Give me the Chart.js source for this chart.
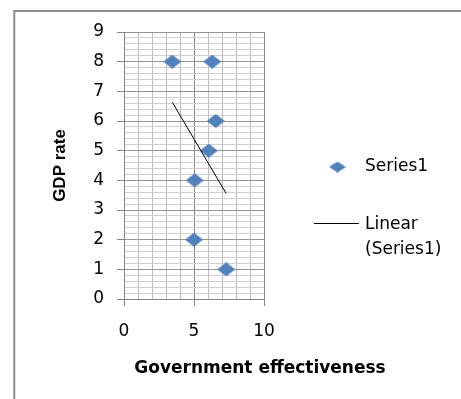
<!DOCTYPE html>
<html>
<head>
<meta charset="utf-8">
<script src="https://cdn.jsdelivr.net/npm/chart.js@4.4.0/dist/chart.umd.min.js"></script>
<style>
  html, body { margin: 0; padding: 0; background: #fff; }
  canvas { display: block; }
</style>
</head>
<body>
<canvas id="myChart" width="461" height="399"></canvas>
<script>
// scatter data: government effectiveness vs GDP rate
const seriesName = "Series1";
const trendName = ["Linear", "(Series1)"];
const xTitle = "Government effectiveness";
const yTitle = "GDP rate";

const govEffect = [3.45, 6.3, 6.55, 6.05, 5.05, 5.0, 7.3];
const gdpRate = [8, 8, 6, 5, 4, 2, 1];

const xTickLabels = [0, 5, 10];
const yTickLabels = [0, 1, 2, 3, 4, 5, 6, 7, 8, 9];

const blue = "#4f81bd";

// least squares line through the points
function linearFit(xs, ys) {
  const n = xs.length;
  const mx = xs.reduce((a, b) => a + b, 0) / n;
  const my = ys.reduce((a, b) => a + b, 0) / n;
  let sxy = 0, sxx = 0;
  for (let i = 0; i < n; i++) {
    sxy += (xs[i] - mx) * (ys[i] - my);
    sxx += (xs[i] - mx) * (xs[i] - mx);
  }
  const slope = sxy / sxx;
  return { slope: slope, intercept: my - slope * mx };
}

const fit = linearFit(govEffect, gdpRate);
const xLo = Math.min(...govEffect);
const xHi = Math.max(...govEffect);
const trendPoints = [
  { x: xLo, y: fit.intercept + fit.slope * xLo },
  { x: xHi, y: fit.intercept + fit.slope * xHi },
];
const points = govEffect.map((x, i) => ({ x: x, y: gdpRate[i] }));

// flat diamond marker
function makeDiamond(w, h) {
  const c = document.createElement("canvas");
  c.width = w;
  c.height = h;
  const g = c.getContext("2d");
  g.fillStyle = blue;
  g.beginPath();
  g.moveTo(w / 2, 0);
  g.lineTo(w, h / 2);
  g.lineTo(w / 2, h);
  g.lineTo(0, h / 2);
  g.closePath();
  g.fill();
  return c;
}
const diamond = makeDiamond(18, 14);
const legendDiamond = makeDiamond(17, 11);

const isWhole = (v) => Math.abs(v - Math.round(v)) < 1e-6;

// frame, x title and the legend on the right
const decor = {
  id: "decor",
  beforeDraw(chart) {
    const ctx = chart.ctx;
    ctx.save();
    ctx.fillStyle = "#fff";
    ctx.fillRect(0, 0, chart.width, chart.height);
    ctx.strokeStyle = "#8c8c8c";
    ctx.lineWidth = 2;
    ctx.beginPath();
    ctx.moveTo(14.3, chart.height);
    ctx.lineTo(14.3, 11);
    ctx.lineTo(chart.width, 11);
    ctx.stroke();
    ctx.restore();
  },
  afterDraw(chart) {
    const ctx = chart.ctx;
    const area = chart.chartArea;
    ctx.save();
    ctx.fillStyle = "#000";
    ctx.textBaseline = "middle";
    ctx.font = "bold 17px 'DejaVu Sans'";
    ctx.textAlign = "center";
    ctx.fillText(xTitle, 260, 369);

    // legend
    ctx.textAlign = "left";
    ctx.font = "17px 'DejaVu Sans'";
    const lx = area.right + 101;
    ctx.drawImage(legendDiamond, area.right + 65, 161.5);
    ctx.fillText(seriesName, lx, 167);
    ctx.strokeStyle = "#000";
    ctx.lineWidth = 1;
    ctx.beginPath();
    ctx.moveTo(area.right + 50, 223.5);
    ctx.lineTo(area.right + 95, 223.5);
    ctx.stroke();
    ctx.fillText(trendName[0], lx, 225);
    ctx.fillText(trendName[1], lx, 250);
    ctx.restore();
  },
};

const tickFont = { family: "'DejaVu Sans'", size: 17 };

new Chart(document.getElementById("myChart"), {
  type: "scatter",
  data: {
    datasets: [
      {
        label: trendName.join(" "),
        type: "line",
        data: trendPoints,
        borderColor: "#000",
        borderWidth: 1,
        pointRadius: 0,
        fill: false,
        order: 0,
      },
      {
        label: seriesName,
        data: points,
        pointStyle: diamond,
        backgroundColor: blue,
        order: 1,
      },
    ],
  },
  options: {
    responsive: false,
    animation: false,
    layout: { padding: { left: 14, top: 32, right: 197, bottom: 0 } },
    plugins: {
      legend: { display: false },
      tooltip: { enabled: false },
    },
    scales: {
      x: {
        type: "linear",
        min: 0,
        max: 10,
        afterFit: (scale) => { scale.height = 100; },
        ticks: {
          stepSize: 1,
          autoSkip: false,
          maxRotation: 0,
          padding: 15,
          color: "#000",
          font: tickFont,
          callback: (v) => (xTickLabels.includes(v) ? String(v) : ""),
        },
        grid: {
          color: (c) => (c.tick && c.tick.value % 5 === 0 ? "#858585" : "#bcbcbc"),
          tickColor: (c) => (c.tick && xTickLabels.includes(c.tick.value) ? "#858585" : "rgba(0,0,0,0)"),
          tickLength: 7,
        },
        border: { color: "#858585" },
      },
      y: {
        type: "linear",
        min: 0,
        max: 9,
        afterFit: (scale) => { scale.width = 110; },
        title: {
          display: true,
          text: yTitle,
          color: "#000",
          font: { family: "'Liberation Sans'", size: 17, weight: "bold" },
          padding: { top: 36, bottom: 0 },
        },
        ticks: {
          stepSize: 0.2,
          autoSkip: false,
          padding: 13,
          color: "#000",
          font: tickFont,
          callback: (v) => {
            const r = Math.round(v);
            return isWhole(v) && yTickLabels.includes(r) ? String(r) : "";
          },
        },
        grid: {
          color: (c) => (c.tick && isWhole(c.tick.value) ? "#959595" : "#d0d0d0"),
          tickColor: (c) => (c.tick && isWhole(c.tick.value) ? "#858585" : "rgba(0,0,0,0)"),
          tickLength: 7,
        },
        border: { color: "#858585" },
      },
    },
  },
  plugins: [decor],
});
</script>
</body>
</html>
